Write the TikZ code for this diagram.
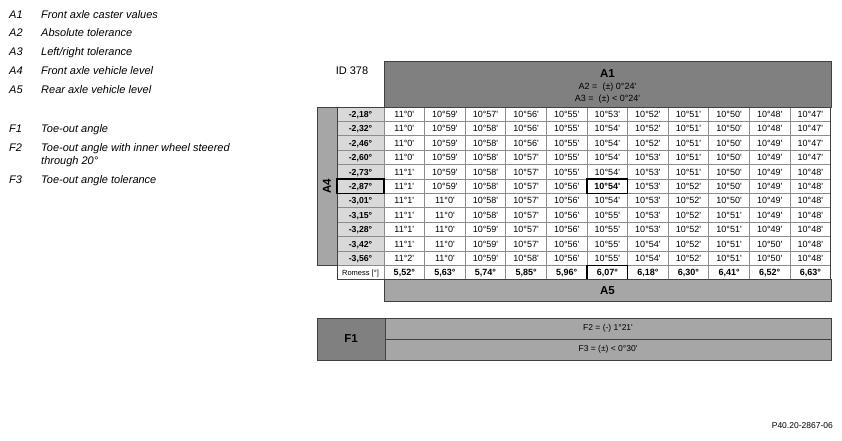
\documentclass[tikz,border=0pt]{standalone}
\usepackage{fontspec}
\setmainfont{Liberation Sans}
\definecolor{hdrgray}{HTML}{808080}
\definecolor{midgray}{HTML}{A6A6A6}
\definecolor{labgray}{HTML}{D9D9D9}
\definecolor{linegray}{HTML}{8C8C8C}
\definecolor{edgegray}{HTML}{404040}
\newcommand{\pr}{\textquotesingle}
\begin{document}
\begin{tikzpicture}[x=1pt,y=-1pt,
  cell/.style={draw=linegray, line width=0.8pt, fill=white, minimum width=40.6pt, minimum height=14.4pt, inner sep=0pt, outer sep=0pt, text height=6.4pt, text depth=0pt, anchor=north west, font=\fontsize{9}{10}\selectfont},
  labcell/.style={cell, fill=labgray, minimum width=47pt, font=\fontsize{8.7}{10}\selectfont\bfseries},
  romcell/.style={cell, font=\fontsize{9}{10}\selectfont\bfseries},
  hl/.style={draw=black, line width=1.6pt},
  band/.style={draw=edgegray, line width=0.8pt, inner sep=0pt, outer sep=0pt, anchor=north west},
  legkey/.style={anchor=base west, inner sep=0pt, font=\fontsize{11}{14}\selectfont\itshape},
  big/.style={font=\fontsize{11.5}{13}\selectfont\bfseries},
  small/.style={font=\fontsize{9}{10}\selectfont, inner sep=0pt},
  f-6-6/.style={font=\fontsize{9}{10}\selectfont\bfseries}
]
\useasboundingbox (0,0) rectangle (842,440);

% legend
\foreach \k/\t/\yy [count=\i] in {A1/Front axle caster values/18, A2/Absolute tolerance/36, A3/Left{/}right tolerance/55, A4/Front axle vehicle level/74, A5/Rear axle vehicle level/93, F1/Toe-out angle/132, F2/Toe-out angle with inner wheel steered/151, F3/Toe-out angle tolerance/183}{
  \node[legkey] (lk\i) at (9,\yy) {\k};
  \node[legkey] (lt\i) at (41,\yy) {\t};
}
\node[legkey] (lt7b) at (41,164) {through 20°};

% header
\node[font=\fontsize{11}{13}\selectfont] (id) at (352,71) {ID 378};
\node[band, fill=hdrgray, minimum width=447pt, minimum height=46pt] (a1box) at (384,61) {};
\node[big] (a1t) at (607.5,74) {A1};
\node[small] (a2t) at (607.5,87) {A2 =\ \ (±) 0°24\pr};
\node[small] (a3t) at (607.5,99) {A3 =\ \ (±) < 0°24\pr};

% A4 block
\node[band, anchor=center, fill=midgray, rotate=90, minimum width=158.4pt, minimum height=20pt, big] (a4) at (327,186.2) {A4};

% row labels
\foreach \lab [count=\r] in {{-2,18°},{-2,32°},{-2,46°},{-2,60°},{-2,73°},{-2,87°},{-3,01°},{-3,15°},{-3,28°},{-3,42°},{-3,56°}}
  \node[labcell] (l\r) at (337,{107+14.4*(\r-1)}) {\lab};

% data
\foreach \rv [count=\r] in {
 {11°0,10°59,10°57,10°56,10°55,10°53,10°52,10°51,10°50,10°48,10°47},
 {11°0,10°59,10°58,10°56,10°55,10°54,10°52,10°51,10°50,10°48,10°47},
 {11°0,10°59,10°58,10°56,10°55,10°54,10°52,10°51,10°50,10°49,10°47},
 {11°0,10°59,10°58,10°57,10°55,10°54,10°53,10°51,10°50,10°49,10°47},
 {11°1,10°59,10°58,10°57,10°55,10°54,10°53,10°51,10°50,10°49,10°48},
 {11°1,10°59,10°58,10°57,10°56,10°54,10°53,10°52,10°50,10°49,10°48},
 {11°1,11°0,10°58,10°57,10°56,10°54,10°53,10°52,10°50,10°49,10°48},
 {11°1,11°0,10°58,10°57,10°56,10°55,10°53,10°52,10°51,10°49,10°48},
 {11°1,11°0,10°59,10°57,10°56,10°55,10°53,10°52,10°51,10°49,10°48},
 {11°1,11°0,10°59,10°57,10°56,10°55,10°54,10°52,10°51,10°50,10°48},
 {11°2,11°0,10°59,10°58,10°56,10°55,10°54,10°52,10°51,10°50,10°48}}{
  \foreach \v [count=\c] in \rv
    \node[cell, f-\r-\c/.try] (d-\r-\c) at ({384+40.6*(\c-1)},{107+14.4*(\r-1)}) {\v\pr};
}

% Romess row
\node[cell, minimum width=47pt, font=\fontsize{7.5}{8}\selectfont] (rl) at (337,265.4) {Romess [°]};
\foreach \v [count=\c] in {{5,52°},{5,63°},{5,74°},{5,85°},{5,96°},{6,07°},{6,18°},{6,30°},{6,41°},{6,52°},{6,63°}}
  \node[romcell] (r-\c) at ({384+40.6*(\c-1)},265.4) {\v};

\draw[edgegray, line width=0.8pt] (l1.north west) rectangle (r-11.south east);

% highlights
\draw[hl] (l6.north west) rectangle (l6.south east);
\draw[hl] (d-6-6.north west) rectangle (d-6-6.south east);
\draw[hl] (r-6.north west) rectangle (r-6.south east);

% A5 band
\node[band, fill=midgray, minimum width=447pt, minimum height=22pt, big] (a5) at (384,279.8) {A5};

% F block
\node[band, fill=hdrgray, minimum width=68pt, minimum height=42pt, big] (f1) at (317,318) {F1};
\node[band, fill=midgray, minimum width=446pt, minimum height=21pt, small, font=\fontsize{8.5}{10}\selectfont] (f2) at (385,318) {F2 = (-) 1°21\pr};
\node[band, fill=midgray, minimum width=446pt, minimum height=21pt, small, font=\fontsize{8.5}{10}\selectfont] (f3) at (385,339) {F3 = (±) < 0°30\pr};

% footer
\node[anchor=east, font=\fontsize{8.5}{10}\selectfont, inner sep=0pt] (code) at (833,426) {P40.20-2867-06};
\end{tikzpicture}
\end{document}
